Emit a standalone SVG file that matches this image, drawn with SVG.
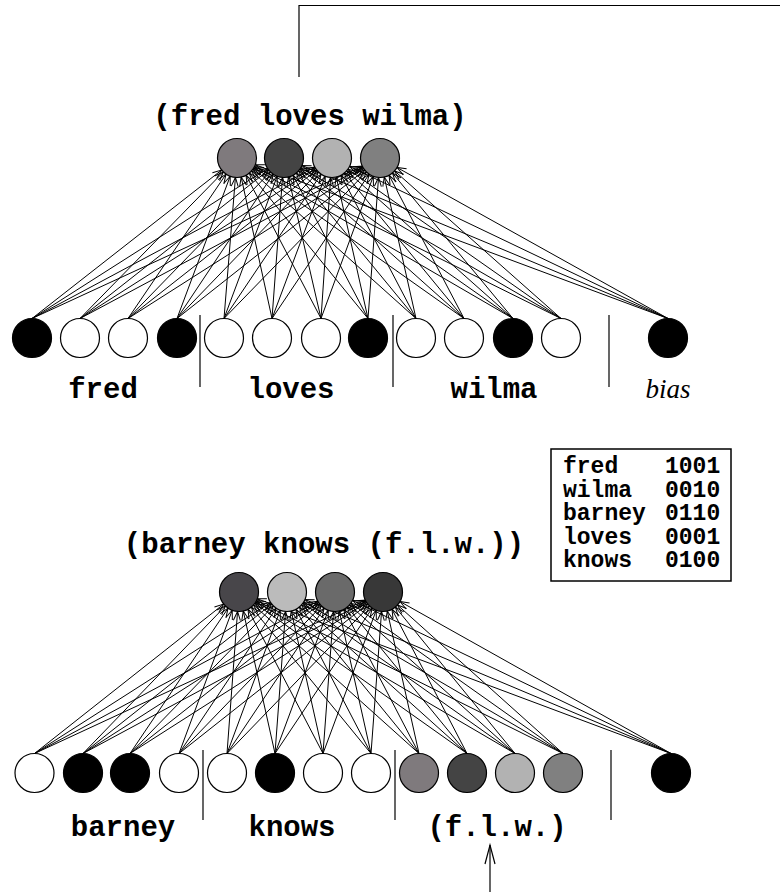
<svg xmlns="http://www.w3.org/2000/svg" width="780" height="892" viewBox="0 0 780 892">
  <defs>
    <style>
      .node circle { stroke: #000; stroke-width: 1.2; }
      .edges line { stroke: #000; stroke-width: 1; marker-end: url(#ah); }
      .rule { stroke: #000; stroke-width: 1.2; fill: none; }
      .mono { font-family: "Liberation Mono", "Courier New", monospace; font-weight: bold; fill: #000; }
      .lbl { font-size: 29px; text-anchor: middle; }
      .key { font-size: 23px; }
      .bias { font-family: "Liberation Serif", "Times New Roman", serif; font-style: italic; font-size: 27px; text-anchor: middle; fill: #000; }
    </style>
    <!-- open arrowhead whose tip sits one node radius (19.5) before the line end -->
    <marker id="ah" markerUnits="userSpaceOnUse" orient="auto" viewBox="-30 -10 40 20" markerWidth="40" markerHeight="20" refX="19.5" refY="0">
      <path d="M-9,-3.5 L0,0 L-9,3.5" fill="none" stroke="#000" stroke-width="1"/>
    </marker>
  </defs>

  <rect width="780" height="892" fill="#fff"/>

  <!-- feedback line from the upper output -->
  <path class="rule" d="M299,77 V5.5 H780"/>

  <!-- ============ upper network connectors ============ -->
  <g id="edges-top" class="edges">
    <line x1="32" y1="318.5" x2="237" y2="158"/><line x1="80" y1="318.5" x2="237" y2="158"/><line x1="128" y1="318.5" x2="237" y2="158"/><line x1="177" y1="318.5" x2="237" y2="158"/><line x1="224" y1="318.5" x2="237" y2="158"/><line x1="272" y1="318.5" x2="237" y2="158"/><line x1="321" y1="318.5" x2="237" y2="158"/><line x1="368" y1="318.5" x2="237" y2="158"/><line x1="416" y1="318.5" x2="237" y2="158"/><line x1="464" y1="318.5" x2="237" y2="158"/><line x1="513" y1="318.5" x2="237" y2="158"/><line x1="561" y1="318.5" x2="237" y2="158"/><line x1="668" y1="318.5" x2="237" y2="158"/>
    <line x1="32" y1="318.5" x2="284" y2="158"/><line x1="80" y1="318.5" x2="284" y2="158"/><line x1="128" y1="318.5" x2="284" y2="158"/><line x1="177" y1="318.5" x2="284" y2="158"/><line x1="224" y1="318.5" x2="284" y2="158"/><line x1="272" y1="318.5" x2="284" y2="158"/><line x1="321" y1="318.5" x2="284" y2="158"/><line x1="368" y1="318.5" x2="284" y2="158"/><line x1="416" y1="318.5" x2="284" y2="158"/><line x1="464" y1="318.5" x2="284" y2="158"/><line x1="513" y1="318.5" x2="284" y2="158"/><line x1="561" y1="318.5" x2="284" y2="158"/><line x1="668" y1="318.5" x2="284" y2="158"/>
    <line x1="32" y1="318.5" x2="332" y2="158"/><line x1="80" y1="318.5" x2="332" y2="158"/><line x1="128" y1="318.5" x2="332" y2="158"/><line x1="177" y1="318.5" x2="332" y2="158"/><line x1="224" y1="318.5" x2="332" y2="158"/><line x1="272" y1="318.5" x2="332" y2="158"/><line x1="321" y1="318.5" x2="332" y2="158"/><line x1="368" y1="318.5" x2="332" y2="158"/><line x1="416" y1="318.5" x2="332" y2="158"/><line x1="464" y1="318.5" x2="332" y2="158"/><line x1="513" y1="318.5" x2="332" y2="158"/><line x1="561" y1="318.5" x2="332" y2="158"/><line x1="668" y1="318.5" x2="332" y2="158"/>
    <line x1="32" y1="318.5" x2="380" y2="158"/><line x1="80" y1="318.5" x2="380" y2="158"/><line x1="128" y1="318.5" x2="380" y2="158"/><line x1="177" y1="318.5" x2="380" y2="158"/><line x1="224" y1="318.5" x2="380" y2="158"/><line x1="272" y1="318.5" x2="380" y2="158"/><line x1="321" y1="318.5" x2="380" y2="158"/><line x1="368" y1="318.5" x2="380" y2="158"/><line x1="416" y1="318.5" x2="380" y2="158"/><line x1="464" y1="318.5" x2="380" y2="158"/><line x1="513" y1="318.5" x2="380" y2="158"/><line x1="561" y1="318.5" x2="380" y2="158"/><line x1="668" y1="318.5" x2="380" y2="158"/>
  </g>

  <!-- ============ lower network connectors ============ -->
  <g id="edges-bottom" class="edges">
    <line x1="34.5" y1="753.5" x2="239" y2="592"/><line x1="83" y1="753.5" x2="239" y2="592"/><line x1="130" y1="753.5" x2="239" y2="592"/><line x1="179" y1="753.5" x2="239" y2="592"/><line x1="227" y1="753.5" x2="239" y2="592"/><line x1="275" y1="753.5" x2="239" y2="592"/><line x1="323" y1="753.5" x2="239" y2="592"/><line x1="371" y1="753.5" x2="239" y2="592"/><line x1="419" y1="753.5" x2="239" y2="592"/><line x1="467" y1="753.5" x2="239" y2="592"/><line x1="515" y1="753.5" x2="239" y2="592"/><line x1="563" y1="753.5" x2="239" y2="592"/><line x1="671" y1="753.5" x2="239" y2="592"/>
    <line x1="34.5" y1="753.5" x2="287" y2="592"/><line x1="83" y1="753.5" x2="287" y2="592"/><line x1="130" y1="753.5" x2="287" y2="592"/><line x1="179" y1="753.5" x2="287" y2="592"/><line x1="227" y1="753.5" x2="287" y2="592"/><line x1="275" y1="753.5" x2="287" y2="592"/><line x1="323" y1="753.5" x2="287" y2="592"/><line x1="371" y1="753.5" x2="287" y2="592"/><line x1="419" y1="753.5" x2="287" y2="592"/><line x1="467" y1="753.5" x2="287" y2="592"/><line x1="515" y1="753.5" x2="287" y2="592"/><line x1="563" y1="753.5" x2="287" y2="592"/><line x1="671" y1="753.5" x2="287" y2="592"/>
    <line x1="34.5" y1="753.5" x2="335" y2="592"/><line x1="83" y1="753.5" x2="335" y2="592"/><line x1="130" y1="753.5" x2="335" y2="592"/><line x1="179" y1="753.5" x2="335" y2="592"/><line x1="227" y1="753.5" x2="335" y2="592"/><line x1="275" y1="753.5" x2="335" y2="592"/><line x1="323" y1="753.5" x2="335" y2="592"/><line x1="371" y1="753.5" x2="335" y2="592"/><line x1="419" y1="753.5" x2="335" y2="592"/><line x1="467" y1="753.5" x2="335" y2="592"/><line x1="515" y1="753.5" x2="335" y2="592"/><line x1="563" y1="753.5" x2="335" y2="592"/><line x1="671" y1="753.5" x2="335" y2="592"/>
    <line x1="34.5" y1="753.5" x2="383" y2="592"/><line x1="83" y1="753.5" x2="383" y2="592"/><line x1="130" y1="753.5" x2="383" y2="592"/><line x1="179" y1="753.5" x2="383" y2="592"/><line x1="227" y1="753.5" x2="383" y2="592"/><line x1="275" y1="753.5" x2="383" y2="592"/><line x1="323" y1="753.5" x2="383" y2="592"/><line x1="371" y1="753.5" x2="383" y2="592"/><line x1="419" y1="753.5" x2="383" y2="592"/><line x1="467" y1="753.5" x2="383" y2="592"/><line x1="515" y1="753.5" x2="383" y2="592"/><line x1="563" y1="753.5" x2="383" y2="592"/><line x1="671" y1="753.5" x2="383" y2="592"/>
  </g>

  <!-- incoming (f.l.w.) arrow at the bottom -->
  <g id="input-arrow">
    <line x1="490" y1="892" x2="490" y2="845" stroke="#000" stroke-width="1.2"/>
    <path d="M485,864 L490,845 L495,864" fill="none" stroke="#000" stroke-width="1.2"/>
  </g>

  <!-- ============ upper network ============ -->
  <text id="title-top" class="mono lbl" x="310" y="125">(fred loves wilma)</text>
  <g id="out-top" class="node">
    <circle cx="237" cy="158" r="19.5" fill="#7f7a7d"/>
    <circle cx="284" cy="158" r="19.5" fill="#444444"/>
    <circle cx="332" cy="158" r="19.5" fill="#b2b2b2"/>
    <circle cx="380" cy="158" r="19.5" fill="#808080"/>
  </g>
  <g id="in-fred" class="node">
    <circle cx="32" cy="338" r="19.5" fill="#000"/>
    <circle cx="80" cy="338" r="19.5" fill="#fff"/>
    <circle cx="128" cy="338" r="19.5" fill="#fff"/>
    <circle cx="177" cy="338" r="19.5" fill="#000"/>
    <text class="mono lbl" x="103" y="398">fred</text>
  </g>
  <g id="in-loves" class="node">
    <circle cx="224" cy="338" r="19.5" fill="#fff"/>
    <circle cx="272" cy="338" r="19.5" fill="#fff"/>
    <circle cx="321" cy="338" r="19.5" fill="#fff"/>
    <circle cx="368" cy="338" r="19.5" fill="#000"/>
    <text class="mono lbl" x="291" y="398">loves</text>
  </g>
  <g id="in-wilma" class="node">
    <circle cx="416" cy="338" r="19.5" fill="#fff"/>
    <circle cx="464" cy="338" r="19.5" fill="#fff"/>
    <circle cx="513" cy="338" r="19.5" fill="#000"/>
    <circle cx="561" cy="338" r="19.5" fill="#fff"/>
    <text class="mono lbl" x="494" y="398">wilma</text>
  </g>
  <g id="in-bias-top" class="node">
    <circle cx="668" cy="338" r="19.5" fill="#000"/>
    <text class="bias" x="668" y="398">bias</text>
  </g>
  <g id="dividers-top">
    <line class="rule" x1="200" y1="315" x2="200" y2="387"/>
    <line class="rule" x1="393" y1="315" x2="393" y2="387"/>
    <line class="rule" x1="609" y1="315" x2="609" y2="387"/>
  </g>

  <!-- ============ code table ============ -->
  <g id="legend">
    <rect x="551" y="449" width="180" height="132" fill="#fff" stroke="#000" stroke-width="1.5"/>
    <text class="mono key" x="563" y="473">fred</text><text class="mono key" x="665" y="473">1001</text>
    <text class="mono key" x="563" y="496.5">wilma</text><text class="mono key" x="665" y="496.5">0010</text>
    <text class="mono key" x="563" y="520">barney</text><text class="mono key" x="665" y="520">0110</text>
    <text class="mono key" x="563" y="543.5">loves</text><text class="mono key" x="665" y="543.5">0001</text>
    <text class="mono key" x="563" y="567">knows</text><text class="mono key" x="665" y="567">0100</text>
  </g>

  <!-- ============ lower network ============ -->
  <text id="title-bottom" class="mono lbl" x="324" y="553">(barney knows (f.l.w.))</text>
  <g id="out-bottom" class="node">
    <circle cx="239" cy="592" r="19.5" fill="#48464a"/>
    <circle cx="287" cy="592" r="19.5" fill="#bbbbbb"/>
    <circle cx="335" cy="592" r="19.5" fill="#6a6a6a"/>
    <circle cx="383" cy="592" r="19.5" fill="#383838"/>
  </g>
  <g id="in-barney" class="node">
    <circle cx="34.5" cy="773" r="19.5" fill="#fff"/>
    <circle cx="83" cy="773" r="19.5" fill="#000"/>
    <circle cx="130" cy="773" r="19.5" fill="#000"/>
    <circle cx="179" cy="773" r="19.5" fill="#fff"/>
    <text class="mono lbl" x="123" y="836">barney</text>
  </g>
  <g id="in-knows" class="node">
    <circle cx="227" cy="773" r="19.5" fill="#fff"/>
    <circle cx="275" cy="773" r="19.5" fill="#000"/>
    <circle cx="323" cy="773" r="19.5" fill="#fff"/>
    <circle cx="371" cy="773" r="19.5" fill="#fff"/>
    <text class="mono lbl" x="292" y="836">knows</text>
  </g>
  <g id="in-flw" class="node">
    <circle cx="419" cy="773" r="19.5" fill="#7f7a7d"/>
    <circle cx="467" cy="773" r="19.5" fill="#444444"/>
    <circle cx="515" cy="773" r="19.5" fill="#b2b2b2"/>
    <circle cx="563" cy="773" r="19.5" fill="#808080"/>
    <text class="mono lbl" x="497" y="836">(f.l.w.)</text>
  </g>
  <g id="in-bias-bottom" class="node">
    <circle cx="671" cy="773" r="19.5" fill="#000"/>
  </g>
  <g id="dividers-bottom">
    <line class="rule" x1="203" y1="750" x2="203" y2="820" stroke="#555"/>
    <line class="rule" x1="395" y1="750" x2="395" y2="820" stroke="#555"/>
    <line class="rule" x1="611" y1="750" x2="611" y2="820" stroke="#555"/>
  </g>
</svg>
